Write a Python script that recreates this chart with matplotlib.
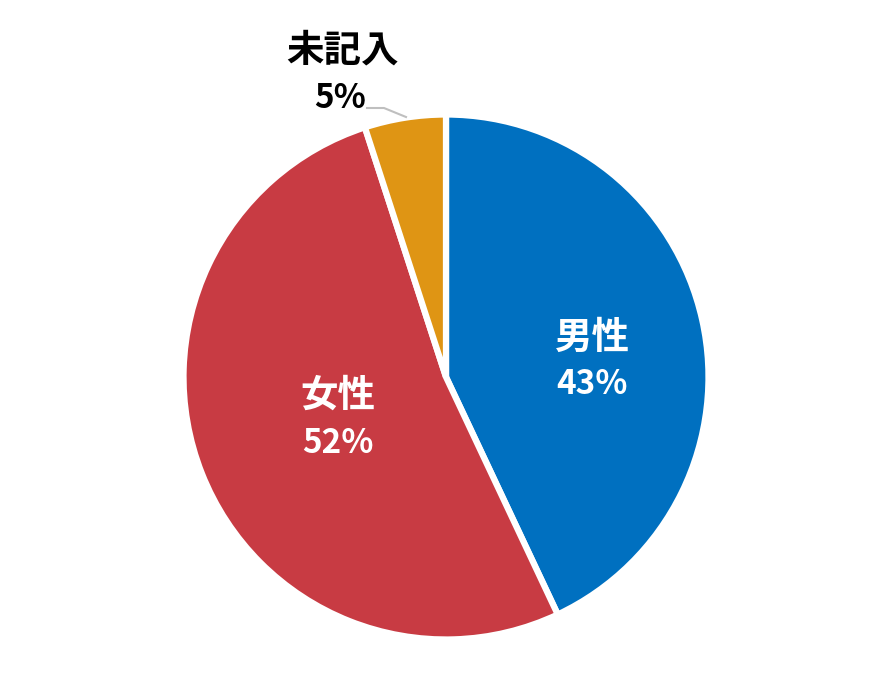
import matplotlib
matplotlib.use('Agg')
import matplotlib.pyplot as plt

labels = ['男性', '女性', '未記入']
values = [43, 52, 5]
colors = ['#0070C0', '#C83B43', '#DF9514']

cx, cy, r = 446, 377, 262.5  # pixel centre / radius in the 880x700 canvas

fig = plt.figure(figsize=(8.8, 7), dpi=100)
ax = fig.add_axes([0, 0, 1, 1])
ax.pie(values, colors=colors, startangle=90, counterclock=False,
       wedgeprops={'edgecolor': 'white', 'linewidth': 4.5})
ax.set_xlim(-cx / r, (880 - cx) / r)
ax.set_ylim(-(700 - cy) / r, cy / r)
ax.set_aspect('equal')
ax.axis('off')


def px(x, y):
    return (x - cx) / r, (cy - y) / r


jp = ['Noto Sans CJK JP', 'DejaVu Sans']

# inside labels
spots = [(592, 337, 384), (338, 395, 443)]
for i, (x, y1, y2) in enumerate(spots):
    ax.text(*px(x, y1), labels[i], color='white', fontsize=27, fontweight='bold',
            family=jp, ha='center', va='center')
    ax.text(*px(x, y2), f'{values[i]}%', color='white', fontsize=24, fontweight='bold',
            family=jp, ha='center', va='center')

# outside label with leader
ax.text(*px(342, 50), labels[2], color='black', fontsize=27, fontweight='bold',
        family=jp, ha='center', va='center')
ax.text(*px(340, 98), f'{values[2]}%', color='black', fontsize=24, fontweight='bold',
        family=jp, ha='center', va='center')
lx, ly = zip(px(367, 108), px(384, 108), px(406, 117))
ax.plot(lx, ly, color='#BFBFBF', lw=1.5)

fig.savefig('out.png', dpi=100)
